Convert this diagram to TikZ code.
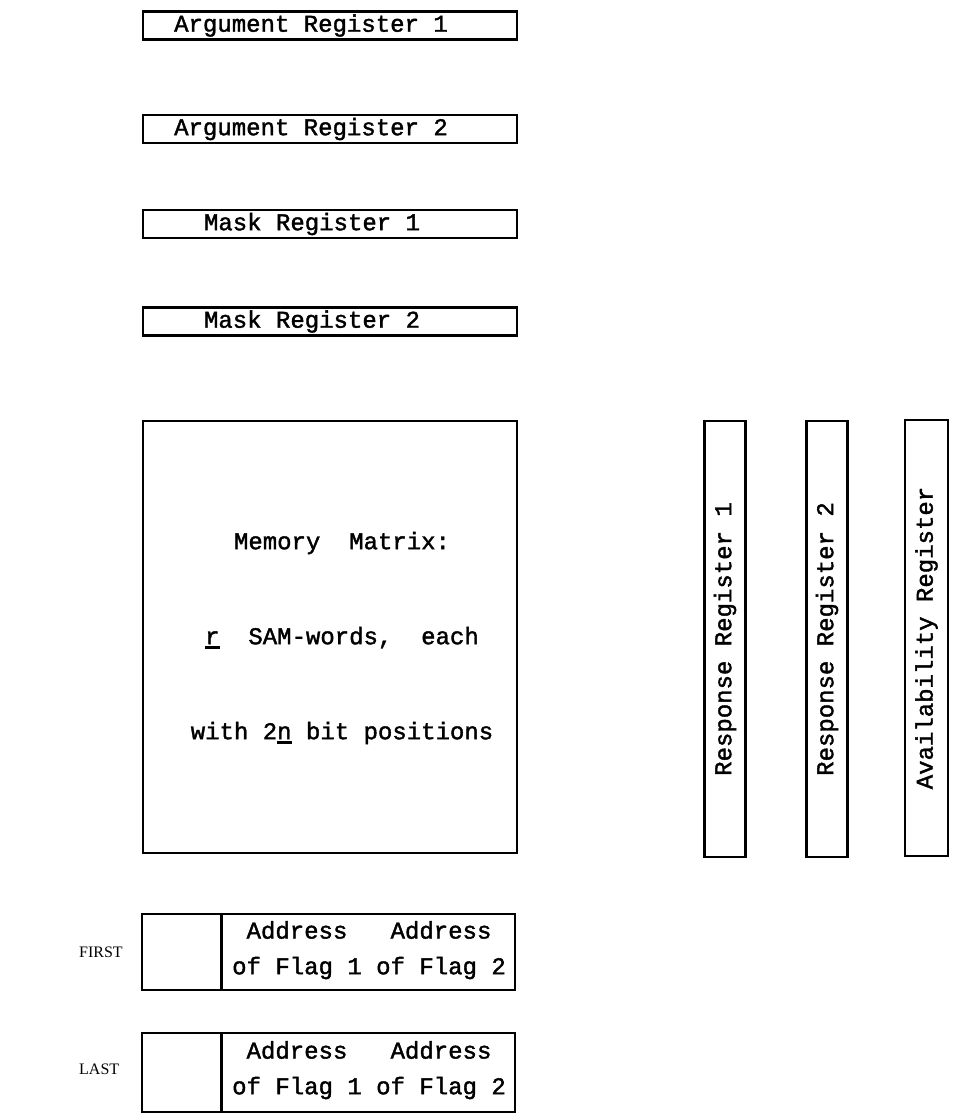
\documentclass[tikz,border=0pt]{standalone}
\usepackage{fontspec}
\newfontfamily\tw[FakeBold=1.6]{Liberation Mono}
\newfontfamily\sr{Liberation Serif}
\newcommand\ulx[1]{\setbox0\hbox{#1}\rlap{\rule[-5pt]{\wd0}{2.8pt}}#1}
\begin{document}
\begin{tikzpicture}[x=1pt,y=-1pt,
  box/.style={draw, line width=2.8pt, inner sep=0pt},
  hreg/.style={box, minimum width=374pt, minimum height=28pt},
  vreg/.style={box, minimum width=41pt, minimum height=436pt},
  txt/.style={inner sep=0pt, font=\tw\fontsize{24}{24}\selectfont},
  vtxt/.style={txt, rotate=90},
  lbl/.style={inner sep=0pt, anchor=west, font=\sr\fontsize{16}{16}\selectfont}]
\useasboundingbox (0,0) rectangle (953,1120);
% horizontal registers
\node[hreg] (ar1) at (330,25.5) {};
\node[txt] (ar1t) at (311,25.5) {Argument Register 1};
\node[hreg] (ar2) at (330,129) {};
\node[txt] (ar2t) at (311,129) {Argument Register 2};
\node[hreg] (mr1) at (330,224) {};
\node[txt] (mr1t) at (312,224) {Mask Register 1};
\node[hreg] (mr2) at (330,321.5) {};
\node[txt] (mr2t) at (312,321.5) {Mask Register 2};
% memory matrix
\node[box, minimum width=374pt, minimum height=432pt] (mm) at (330,637) {};
\node[txt] (mm1) at (342,543) {Memory\ \ Matrix:};
\node[txt] (mm2) at (342,638) {\ulx{r}\ \ SAM-words,\ \ each};
\node[txt] (mm3) at (342,733) {with 2\ulx{n} bit positions};
% vertical registers
\node[vreg] (rr1) at (725,639) {};
\node[vtxt] (rr1t) at (725,639) {Response Register 1};
\node[vreg] (rr2) at (827,639) {};
\node[vtxt] (rr2t) at (827,639) {Response Register 2};
\node[vreg, minimum width=43pt] (avr) at (926.5,638) {};
\node[vtxt] (avrt) at (926.5,638) {Availability Register};
% FIRST
\node[lbl] (fl) at (79,952) {FIRST};
\node[box, minimum width=373pt, minimum height=76pt] (fb) at (328.5,952) {};
\draw[line width=2.8pt] ([xshift=81pt]fb.north west) -- ([xshift=81pt]fb.south west);
\node[txt, anchor=west] (fb1) at (232,930) {\ Address\ \ \ Address};
\node[txt, anchor=west] (fb2) at (232,968) {of Flag 1 of Flag 2};
% LAST
\node[lbl] (ll) at (79,1069) {LAST};
\node[box, minimum width=373pt, minimum height=79pt] (lb) at (328.5,1072.5) {};
\draw[line width=2.8pt] ([xshift=81pt]lb.north west) -- ([xshift=81pt]lb.south west);
\node[txt, anchor=west] (lb1) at (232,1050) {\ Address\ \ \ Address};
\node[txt, anchor=west] (lb2) at (232,1088) {of Flag 1 of Flag 2};
\end{tikzpicture}
\end{document}
